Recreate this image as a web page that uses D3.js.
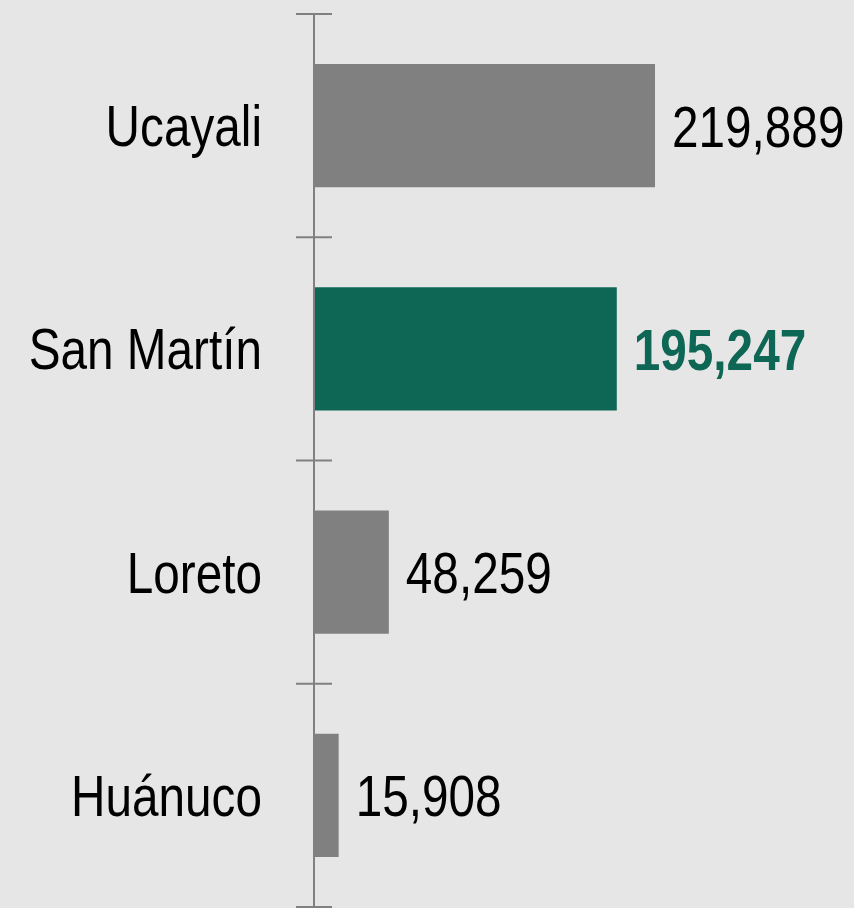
<!DOCTYPE html>
<html>
<head>
<meta charset="utf-8">
<script src="https://cdn.jsdelivr.net/npm/d3@7"></script>
<style>
  html, body { margin: 0; padding: 0; background: #e6e6e6; }
  #chart svg { display: block; }
</style>
</head>
<body>
<div id="chart"></div>
<script>
const regiones = ["Ucayali", "San Martín", "Loreto", "Huánuco"];
const valores = [219889, 195247, 48259, 15908];
const destacada = "San Martín";

const W = 854, H = 908;
const ejeX = 314;
const fuente = "'Liberation Sans', Arial, sans-serif";
const estrecho = 0.837; // simula Arial Narrow

const data = regiones.map((r, i) => ({ region: r, valor: valores[i] }));

const svg = d3.select("#chart")
  .append("svg")
  .attr("width", W)
  .attr("height", H);

svg.append("rect")
  .attr("width", W).attr("height", H)
  .attr("fill", "#e6e6e6");

const y = d3.scaleBand()
  .domain(regiones)
  .range([14, 907])
  .paddingInner(0.448)
  .paddingOuter(0.224);

const x = d3.scaleLinear()
  .domain([0, 219889])
  .range([ejeX, 655]);

// Barras
svg.selectAll(".bar")
  .data(data)
  .enter().append("rect")
  .attr("class", "bar")
  .attr("x", x(0))
  .attr("y", d => y(d.region))
  .attr("width", d => x(d.valor) - x(0))
  .attr("height", y.bandwidth())
  .attr("fill", d => d.region === destacada ? "#0e6655" : "#808080");

// Eje vertical con marcas entre categorías
const paso = y.step();
const marcas = regiones.map(r => y(r) - paso * y.paddingInner() / 2);
marcas.push(marcas[marcas.length - 1] + paso);

svg.append("line")
  .attr("x1", ejeX).attr("x2", ejeX)
  .attr("y1", marcas[0]).attr("y2", H)
  .attr("stroke", "#808080")
  .attr("stroke-width", 2);

svg.selectAll(".tick")
  .data(marcas)
  .enter().append("line")
  .attr("class", "tick")
  .attr("x1", ejeX - 18).attr("x2", ejeX + 18)
  .attr("y1", d => d).attr("y2", d => d)
  .attr("stroke", "#808080")
  .attr("stroke-width", 2);

// Nombres de regiones
svg.selectAll(".cat")
  .data(data)
  .enter().append("text")
  .attr("class", "cat")
  .attr("transform", d => `translate(${ejeX - 52},${y(d.region) + y.bandwidth() / 2}) scale(${estrecho},1)`)
  .attr("dy", "0.36em")
  .attr("text-anchor", "end")
  .attr("font-family", fuente)
  .attr("font-size", 57)
  .attr("fill", "#000")
  .text(d => d.region);

// Valores
const fmt = d3.format(",");
svg.selectAll(".val")
  .data(data)
  .enter().append("text")
  .attr("class", "val")
  .attr("transform", d => `translate(${x(d.valor) + 17},${y(d.region) + y.bandwidth() / 2}) scale(${estrecho},1)`)
  .attr("dy", "0.37em")
  .attr("font-family", fuente)
  .attr("font-size", 57)
  .attr("font-weight", d => d.region === destacada ? "bold" : "normal")
  .attr("fill", d => d.region === destacada ? "#0e6655" : "#000")
  .text(d => fmt(d.valor));
</script>
</body>
</html>
